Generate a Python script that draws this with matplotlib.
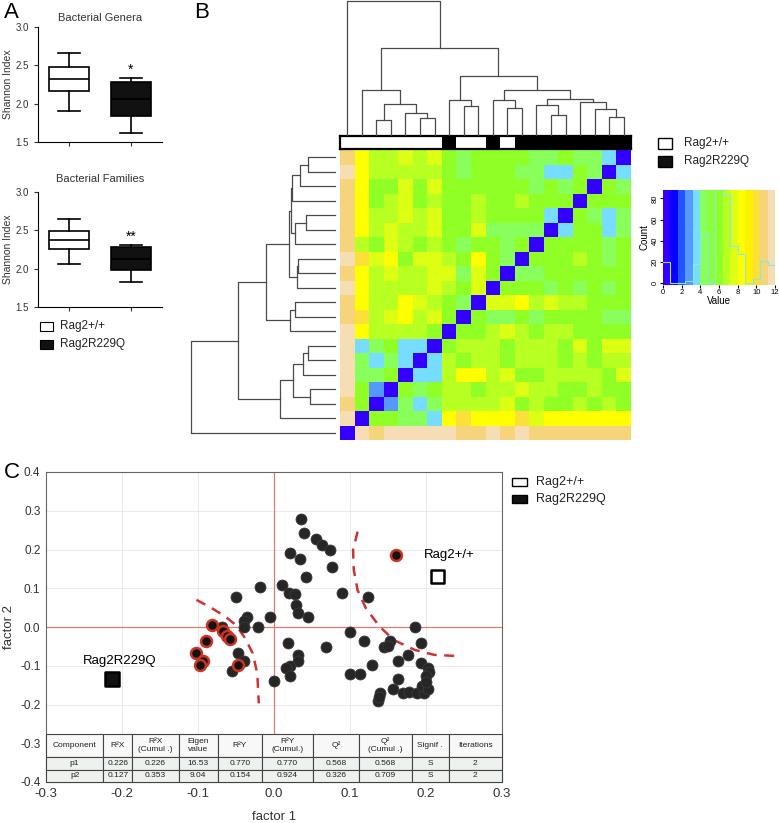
import numpy as np
import matplotlib
matplotlib.use("Agg")
import matplotlib.pyplot as plt
from matplotlib.colors import ListedColormap, BoundaryNorm
from matplotlib.patches import Rectangle

plt.rcParams['font.family'] = ['Liberation Sans', 'DejaVu Sans']
plt.rcParams['axes.unicode_minus'] = False

W, H = 779, 823

# ---------------- panel A data ----------------
groups = ['Rag2+/+', 'Rag2R229Q']
group_face = ['white', '#111111']
genera_stats = [dict(whislo=1.91, q1=2.16, med=2.32, q3=2.48, whishi=2.66),
                dict(whislo=1.62, q1=1.84, med=2.06, q3=2.28, whishi=2.34)]
families_stats = [dict(whislo=2.06, q1=2.26, med=2.37, q3=2.49, whishi=2.65),
                  dict(whislo=1.82, q1=1.98, med=2.12, q3=2.28, whishi=2.31)]
genera_sig = '*'
families_sig = '**'

# ---------------- panel B data ----------------
# distance matrix, rows as displayed from top to bottom
dist_rows = [
    [10.8, 8.4, 6.8, 6.8, 7.6, 6.8, 7.6, 6.0, 4.4, 6.0, 6.0, 6.0, 6.0, 4.4, 4.4, 6.0, 4.4, 4.4, 3.6, 0.3],
    [11.6, 8.4, 6.8, 6.8, 6.8, 6.8, 6.8, 6.0, 4.4, 6.0, 6.0, 6.0, 4.4, 4.4, 3.6, 3.6, 6.0, 4.4, 0.3, 3.6],
    [10.8, 8.4, 6.0, 6.0, 7.6, 6.0, 7.6, 6.0, 6.0, 6.0, 6.0, 6.0, 6.0, 4.4, 6.0, 4.4, 6.0, 0.3, 6.0, 4.4],
    [10.8, 8.4, 6.0, 6.8, 7.6, 6.0, 6.8, 6.0, 6.0, 6.8, 6.0, 6.0, 6.8, 6.0, 6.0, 6.0, 0.3, 6.0, 6.0, 6.0],
    [10.8, 8.4, 6.8, 6.8, 7.6, 6.8, 7.6, 6.0, 6.0, 6.8, 6.0, 6.0, 6.0, 6.0, 3.6, 0.3, 6.0, 4.4, 3.6, 4.4],
    [10.8, 8.4, 6.8, 7.6, 6.8, 6.8, 7.6, 6.0, 6.0, 7.6, 4.4, 4.4, 4.4, 4.4, 0.3, 3.6, 6.0, 6.0, 3.6, 4.4],
    [10.8, 6.8, 6.0, 7.6, 6.8, 6.0, 6.8, 6.0, 4.4, 6.0, 6.0, 4.4, 6.0, 0.3, 6.0, 6.0, 6.0, 6.0, 4.4, 6.0],
    [11.6, 9.8, 7.6, 8.4, 6.0, 7.6, 7.6, 6.8, 6.0, 8.4, 6.0, 4.4, 0.3, 6.0, 6.0, 6.0, 6.8, 6.0, 4.4, 6.0],
    [10.8, 8.4, 6.8, 7.6, 6.8, 6.8, 7.6, 7.6, 4.4, 7.6, 6.0, 0.3, 4.4, 4.4, 6.0, 6.0, 6.0, 6.0, 6.0, 6.0],
    [11.6, 8.4, 6.8, 6.8, 6.8, 6.8, 7.6, 6.8, 6.0, 7.6, 0.3, 6.0, 6.0, 6.0, 4.4, 6.0, 4.4, 6.0, 4.4, 6.0],
    [10.8, 8.4, 6.8, 6.8, 8.4, 7.6, 6.8, 6.0, 4.4, 0.3, 7.6, 7.6, 8.4, 6.8, 7.6, 6.8, 6.8, 6.0, 6.0, 6.0],
    [10.8, 9.8, 6.8, 7.6, 8.4, 6.8, 7.6, 6.0, 0.3, 6.0, 4.4, 4.4, 6.0, 4.4, 6.0, 6.0, 6.0, 6.0, 4.4, 4.4],
    [11.6, 8.4, 6.8, 6.8, 6.8, 6.8, 6.0, 0.3, 6.0, 6.0, 6.8, 7.6, 6.8, 6.0, 6.8, 6.8, 6.0, 6.0, 6.0, 6.0],
    [11.6, 3.6, 4.4, 6.0, 3.6, 3.6, 0.3, 6.0, 6.8, 6.8, 6.8, 6.0, 6.8, 6.8, 6.8, 6.0, 7.6, 6.0, 7.6, 7.6],
    [11.6, 4.4, 3.6, 4.4, 3.6, 0.3, 3.6, 6.8, 6.0, 6.8, 6.8, 6.0, 6.8, 6.8, 6.8, 6.0, 6.8, 6.0, 6.8, 6.8],
    [11.6, 4.4, 4.4, 6.0, 0.3, 3.6, 3.6, 6.8, 8.4, 8.4, 6.8, 7.6, 6.0, 6.0, 6.8, 6.8, 6.8, 6.8, 6.0, 7.6],
    [11.6, 6.0, 2.8, 0.3, 6.0, 4.4, 6.0, 6.8, 6.8, 6.0, 6.8, 6.8, 7.6, 6.8, 6.8, 6.0, 6.0, 6.8, 6.0, 6.0],
    [10.8, 6.0, 0.3, 2.8, 4.4, 3.6, 4.4, 6.8, 6.8, 6.8, 6.8, 7.6, 6.0, 6.8, 6.0, 6.0, 6.8, 6.0, 6.8, 6.0],
    [11.6, 0.3, 6.0, 6.0, 4.4, 4.4, 3.6, 8.4, 9.8, 8.4, 8.4, 8.4, 9.8, 7.6, 8.4, 8.4, 8.4, 8.4, 8.4, 8.4],
    [0.3, 11.6, 10.8, 11.6, 11.6, 11.6, 11.6, 11.6, 10.8, 10.8, 11.6, 10.8, 11.6, 10.8, 10.8, 10.8, 10.8, 10.8, 10.8, 10.8],
]
# column side colours: 0 = Rag2+/+, 1 = Rag2R229Q
col_groups = [0, 0, 0, 0, 0, 0, 0, 1, 0, 0, 1, 0, 1, 1, 1, 1, 1, 1, 1, 1]

# merges: (child a, child b, height); ids >= 20 refer to earlier merges
col_merges = [(2, 3, 45), (5, 6, 50), (4, 21, 68), (20, 22, 95), (1, 23, 137),
              (8, 9, 89), (7, 25, 105), (11, 12, 83), (10, 27, 105), (14, 15, 59),
              (13, 29, 92), (18, 19, 53), (17, 31, 80), (16, 32, 100), (30, 33, 108),
              (28, 34, 137), (26, 35, 177), (24, 36, 262), (0, 37, 405)]
row_merges = [(19, 18, 80), (20, 17, 105), (21, 16, 128), (15, 14, 88), (23, 13, 120),
              (22, 24, 132), (12, 11, 110), (26, 10, 115), (25, 27, 137), (9, 8, 120),
              (29, 7, 135), (28, 30, 207), (6, 5, 80), (32, 4, 95), (3, 2, 75),
              (33, 34, 125), (35, 1, 165), (31, 36, 292), (37, 0, 432)]

key_colors = ['#3300ff', '#0a00ff', '#2255ff', '#5599ff', '#77ddff',
              '#88ff5a', '#8cff3c', '#90ff26', '#b8ff22', '#ddff14',
              '#ffff00', '#fff000', '#fbe03a', '#f5d47c', '#f5deb3']
key_bounds = np.linspace(0, 12, 16)

# ---------------- panel C data ----------------
black_x = [0.036, 0.040, 0.055, 0.063, 0.074, 0.021, 0.034, 0.076, 0.042, -0.018,
           0.011, 0.020, 0.027, -0.050, 0.089, 0.124, 0.029, 0.031, 0.045, -0.005,
           -0.035, -0.039, -0.040, -0.021, -0.068, 0.100, 0.118, 0.185, 0.193, 0.153,
           0.145, 0.150, 0.068, 0.018, -0.047, 0.032, 0.032, -0.039, 0.176, 0.163,
           0.193, 0.202, 0.204, 0.200, 0.129, 0.100, 0.113, 0.021, 0.016, 0.021,
           -0.055, 0.000, 0.163, 0.156, 0.170, 0.178, 0.188, 0.197, 0.195, 0.203,
           0.139, 0.137, 0.138, 0.200]
black_y = [0.278, 0.242, 0.227, 0.212, 0.200, 0.190, 0.175, 0.154, 0.128, 0.102,
           0.108, 0.087, 0.084, 0.077, 0.087, 0.077, 0.057, 0.035, 0.025, 0.025,
           0.025, 0.015, -0.001, -0.001, 0.001, -0.012, -0.037, -0.001, -0.042, -0.037,
           -0.052, -0.049, -0.052, -0.042, -0.068, -0.072, -0.088, -0.088, -0.072, -0.088,
           -0.094, -0.105, -0.115, -0.126, -0.099, -0.120, -0.120, -0.100, -0.105, -0.126,
           -0.114, -0.140, -0.135, -0.161, -0.171, -0.167, -0.171, -0.171, -0.152, -0.161,
           -0.171, -0.191, -0.180, -0.141]
red_x = [-0.082, -0.067, -0.062, -0.058, -0.090, -0.103, -0.094, -0.097, -0.047, 0.161]
red_y = [0.005, -0.010, -0.023, -0.031, -0.036, -0.066, -0.087, -0.099, -0.099, 0.185]
left_arc_x = [-0.102, -0.083, -0.065, -0.050, -0.038, -0.028, -0.022, -0.020]
left_arc_y = [0.070, 0.050, 0.028, 0.005, -0.029, -0.068, -0.120, -0.197]
right_arc_x = [0.110, 0.104, 0.105, 0.110, 0.121, 0.139, 0.158, 0.185, 0.211, 0.242]
right_arc_y = [0.246, 0.199, 0.147, 0.095, 0.048, 0.001, -0.034, -0.059, -0.072, -0.075]
centroid_x = [0.215, -0.213]
centroid_y = [0.130, -0.134]

table_header = ['Component', 'R²X', 'R²X\n(Cumul .)', 'Eigen\nvalue', 'R²Y', 'R²Y\n(Cumul.)',
                'Q²', 'Q²\n(Cumul .)', 'Signif .', 'Iterations']
table_rows = [['p1', '0.226', '0.226', '16.53', '0.770', '0.770', '0.568', '0.568', 'S', '2'],
              ['p2', '0.127', '0.353', '9.04', '0.154', '0.924', '0.326', '0.709', 'S', '2']]
table_col_px = [57, 29, 46, 39, 44, 51, 46, 52, 37, 53]


def rect(x0, y0, x1, y1):
    return [x0 / W, 1 - y1 / H, (x1 - x0) / W, (y1 - y0) / H]


def draw_dendrogram(ax, merges, n, side):
    pos = {i: i + 0.5 for i in range(n)}
    hgt = {i: 0.0 for i in range(n)}
    for k, (a, b, h) in enumerate(merges):
        xs = [pos[a], pos[a], pos[b], pos[b]]
        ys = [hgt[a], h, h, hgt[b]]
        if side == 'top':
            ax.plot(xs, ys, color='#4a4a4a', lw=0.9, clip_on=False)
        else:
            ax.plot(ys, xs, color='#4a4a4a', lw=0.9, clip_on=False)
        pos[n + k] = (pos[a] + pos[b]) / 2
        hgt[n + k] = h


fig = plt.figure(figsize=(W / 100, H / 100), dpi=100)

# ---------------- panel A ----------------
for (y0, y1, title, stats, sig, tpad) in [(27, 142, 'Bacterial Genera', genera_stats, genera_sig, 4),
                                           (192, 307, 'Bacterial Families', families_stats, families_sig, 7)]:
    ax = fig.add_axes(rect(38, y0, 162, y1))
    bp = ax.bxp(stats, positions=[1, 2], widths=0.66, patch_artist=True, showfliers=False,
                boxprops=dict(lw=1.2), whiskerprops=dict(lw=1.2), capprops=dict(lw=1.2),
                medianprops=dict(color='black', lw=1.2), capwidths=0.34)
    for patch, fc in zip(bp['boxes'], group_face):
        patch.set_facecolor(fc)
        patch.set_edgecolor('black')
    ax.text(2, stats[1]['whishi'] + 0.01, sig, ha='center', va='bottom', fontsize=10)
    ax.set_xlim(0.5, 2.5)
    ax.set_ylim(1.5, 3.0)
    ax.set_yticks([1.5, 2.0, 2.5, 3.0])
    ax.set_xticks([1, 2])
    ax.set_xticklabels([])
    ax.tick_params(labelsize=7, length=3, colors='#333333')
    ax.spines['top'].set_visible(False)
    ax.spines['right'].set_visible(False)
    ax.set_ylabel('Shannon Index', fontsize=7.5, color='#333333', labelpad=2)
    ax.set_title(title, fontsize=8, color='#333333', pad=tpad)

for i, g in enumerate(groups):
    fig.patches.append(Rectangle((40 / W, 1 - (331 + 18 * i) / H), 13 / W, 9 / H,
                                 facecolor=group_face[i], edgecolor='black', lw=0.8,
                                 transform=fig.transFigure))
    fig.text(60 / W, 1 - (326 + 18 * i) / H, g, fontsize=8.5, va='center', color='#222222')

fig.text(4 / W, 1 - 12 / H, 'A', fontsize=16, va='center')
fig.text(194 / W, 1 - 12 / H, 'B', fontsize=16, va='center')
fig.text(4 / W, 1 - 472 / H, 'C', fontsize=16, va='center')

# ---------------- panel B ----------------
mat = np.array(dist_rows)[::-1]
n = mat.shape[0]
cmap = ListedColormap(key_colors)
norm = BoundaryNorm(key_bounds, cmap.N)

axh = fig.add_axes(rect(340, 150, 631, 440))
axh.pcolormesh(mat, cmap=cmap, norm=norm)
axh.set_xlim(0, n)
axh.set_ylim(0, n)
axh.axis('off')

axs = fig.add_axes(rect(340, 136, 631, 149))
axs.pcolormesh(np.array([col_groups]), cmap=ListedColormap(['white', 'black']), vmin=0, vmax=1)
axs.set_xlim(0, n)
axs.set_xticks([])
axs.set_yticks([])
for s in axs.spines.values():
    s.set_linewidth(1.6)

axt = fig.add_axes(rect(340, 0, 631, 135))
draw_dendrogram(axt, col_merges, n, 'top')
axt.set_xlim(0, n)
axt.set_ylim(0, 408)
axt.axis('off')

axl = fig.add_axes(rect(190, 150, 335, 440))
draw_dendrogram(axl, row_merges, n, 'left')
axl.set_ylim(0, n)
axl.set_xlim(435, 0)
axl.axis('off')

for i, g in enumerate(groups):
    fig.patches.append(Rectangle((658 / W, 1 - (149 + 18 * i) / H), 14 / W, 11 / H,
                                 facecolor=group_face[i], edgecolor='black', lw=1.0,
                                 transform=fig.transFigure))
    fig.text(684 / W, 1 - (143 + 18 * i) / H, g, fontsize=8.5, va='center', color='#222222')

# colour key with histogram of matrix values
axk = fig.add_axes(rect(663, 190, 775, 285))
counts, _ = np.histogram(mat.ravel(), bins=key_bounds)
for lo, hi, c in zip(key_bounds[:-1], key_bounds[1:], key_colors):
    axk.axvspan(lo, hi, color=c, lw=0)
axk.step(key_bounds, np.append(counts, counts[-1]), where='post', color='#8de8e0', lw=0.8)
axk.set_xlim(0, 12)
axk.set_ylim(-2, 88)
axk.set_xticks(range(0, 13, 2))
axk.set_yticks(range(0, 81, 20))
axk.tick_params(labelsize=5.5, length=2, pad=1)
for lab in axk.get_yticklabels():
    lab.set_rotation(90)
    lab.set_va('center')
for s in axk.spines.values():
    s.set_visible(False)
axk.set_xlabel('Value', fontsize=7, labelpad=0)
axk.set_ylabel('Count', fontsize=7, labelpad=2)

# ---------------- panel C ----------------
axc = fig.add_axes(rect(46, 472, 502, 782))
axc.set_xlim(-0.3, 0.3)
axc.set_ylim(-0.4, 0.4)
axc.set_xticks(np.round(np.arange(-0.3, 0.31, 0.1), 1))
axc.set_yticks(np.round(np.arange(-0.4, 0.41, 0.1), 1))
axc.grid(True, color='#e6e6e6', lw=0.6)
axc.set_axisbelow(True)
axc.axhline(0, color='#e07a6a', lw=0.9, zorder=1)
axc.axvline(0, color='#e07a6a', lw=0.9, zorder=1)
axc.plot(left_arc_x, left_arc_y, color='#cc3333', lw=1.8, dashes=(4, 3), zorder=2)
axc.plot(right_arc_x, right_arc_y, color='#cc3333', lw=1.8, dashes=(4, 3), zorder=2)
axc.scatter(black_x, black_y, s=62, color='#262626', edgecolor='#3a3a3a', lw=0.6, zorder=3)
axc.scatter(red_x, red_y, s=62, color='#111111', edgecolor='#cc3322', lw=1.8, zorder=4)
axc.scatter(centroid_x, centroid_y, s=95, marker='s', c=group_face, edgecolor='black',
            lw=1.8, zorder=4)
axc.text(centroid_x[0] + 0.015, centroid_y[0] + 0.04, groups[0], fontsize=9.5, ha='center', va='bottom')
axc.text(centroid_x[1] + 0.01, centroid_y[1] + 0.03, groups[1], fontsize=9.5, ha='center', va='bottom')
axc.tick_params(labelsize=8.5, length=0, pad=4, colors='#333333')
axc.tick_params(axis='x', labelsize=9.5)
for s in axc.spines.values():
    s.set_color('#666666')
    s.set_linewidth(0.8)
axc.set_xlabel('factor 1', fontsize=9.5, color='#333333', labelpad=8)
axc.set_ylabel('factor 2', fontsize=9.5, color='#333333')
axc.yaxis.set_label_coords(-0.068, 0.5)

tab = axc.table(cellText=table_rows, colLabels=table_header, cellLoc='center',
                bbox=[0, 0, 1, 48 / 310], zorder=6)
tab.auto_set_font_size(False)
tot = sum(table_col_px)
for (r, c), cell in tab.get_celld().items():
    cell.set_width(table_col_px[c] / tot)
    cell.set_height(23 if r == 0 else 12.5)
    cell.set_edgecolor('#444444')
    cell.set_linewidth(0.8)
    cell.set_facecolor('#f8f8f8' if r == 0 else '#eef2ee')
    cell.get_text().set_fontsize(6)
    cell.get_text().set_color('#222222')

for i, g in enumerate(groups):
    fig.patches.append(Rectangle((512 / W, 1 - (486 + 17 * i) / H), 15 / W, 8 / H,
                                 facecolor=group_face[i], edgecolor='black', lw=1.0,
                                 transform=fig.transFigure))
    fig.text(536 / W, 1 - (482 + 17 * i) / H, g, fontsize=9, va='center', color='#222222')

fig.savefig('out.png', dpi=100)
